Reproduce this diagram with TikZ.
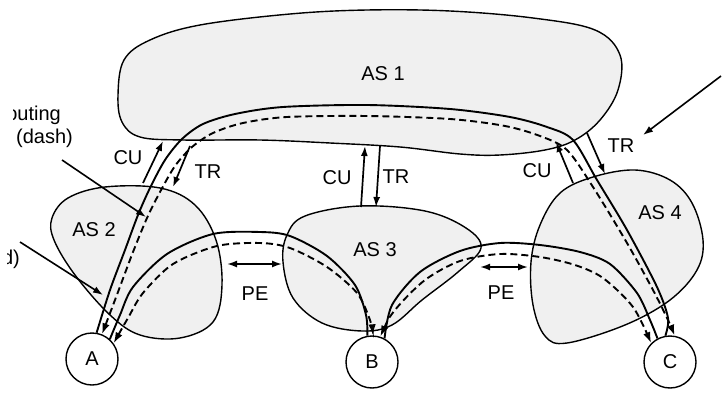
\documentclass[tikz,border=0pt]{standalone}
\usepackage{fontspec}
\setmainfont{Liberation Sans}
\usetikzlibrary{arrows.meta}
\tikzset{
  as/.style={draw, line width=1.4pt, fill=black!6},
  lbl/.style={font={\fontsize{20}{23}\selectfont}, inner sep=1pt},
  host/.style={circle, draw, line width=1.4pt, fill=white, minimum size=52pt, inner sep=0pt, font={\fontsize{20}{23}\selectfont}},
  fwd/.style={line width=1.9pt},
  rtg/.style={line width=1.9pt, dash pattern=on 7pt off 4pt, {Latex[length=11pt,width=7.5pt]}-{Latex[length=11pt,width=7.5pt]}},
  rel/.style={line width=1.7pt, -{Latex[length=10pt,width=7pt]}},
  peer/.style={line width=1.7pt, {Latex[length=10pt,width=7pt]}-{Latex[length=10pt,width=7pt]}},
  pointer/.style={line width=1.6pt, -{Latex[length=10pt,width=7pt]}},
}
\begin{document}
\begin{tikzpicture}[x=1pt, y=-1pt]
    \useasboundingbox (0,0) rectangle (722,393);
    % the ASes
    \draw[as] plot[smooth cycle, tension=0.6] coordinates {(118,95) (124,60) (150,40) (200,25) (290,14) (367,10) (450,11) (533,18) (595,30) (620,55) (618,90) (600,120) (575,140) (545,150) (500,155) (460,154) (400,147) (330,143) (260,140) (183,140) (140,137) (122,122)};
    \draw[as] plot[smooth cycle, tension=0.6] coordinates {(52,218) (68,198) (105,187) (160,188) (195,205) (216,240) (222,285) (213,322) (180,338) (140,335) (110,315) (75,275) (54,240)};
    \draw[as] plot[smooth cycle, tension=0.6] coordinates {(283,262) (287,235) (305,216) (360,206) (425,211) (466,228) (481,248) (458,272) (422,300) (392,325) (362,331) (322,323) (293,298)};
    \draw[as] plot[smooth cycle, tension=0.6] coordinates {(531,262) (540,225) (560,193) (593,177) (635,170) (670,180) (692,203) (703,240) (697,270) (670,300) (625,325) (567,343) (545,336) (533,305)};
    \node[lbl] (as1) at (383,74) {AS 1};
    \node[lbl] (as2) at (94,230) {AS 2};
    \node[lbl] (as3) at (375,250) {AS 3};
    \node[lbl] (as4) at (660,213) {AS 4};

    \node[host] (A) at (92,359) {A};
    \node[host] (B) at (372,362) {B};
    \node[host] (C) at (670,362) {C};

    % forwarding (solid) and routing (dash)
    \draw[fwd] plot[smooth] coordinates {(A.80) (110,290) (125,250) (138,215) (150,188) (165,160) (182,139) (203,124) (235,114) (283,107) (367,105) (450,109) (510,117) (547,127) (573,140) (597,180) (627,230) (657,287) (668,318) (C.100)};
    \draw[rtg] plot[smooth] coordinates {(A.68) (118,292) (133,252) (147,218) (160,192) (175,166) (192,147) (213,133) (243,123) (287,117) (367,116) (450,119) (505,126) (540,136) (567,150) (593,187) (627,243) (653,290) (668,320) (C.80)};
    \draw[fwd] plot[smooth] coordinates {(A.48) (120,315) (133,287) (167,254) (213,234) (260,232) (290,236) (327,256) (355,285) (366,315) (B.100)};
    \draw[rtg] plot[smooth] coordinates {(A.36) (128,318) (143,293) (173,264) (217,246) (260,243) (290,248) (327,267) (357,293) (370,320) (B.88)};
    \draw[fwd] plot[smooth] coordinates {(B.62) (392,305) (420,272) (460,251) (500,243) (540,245) (580,252) (610,264) (637,293) (650,320) (C.118)};
    \draw[rtg] plot[smooth] coordinates {(B.72) (395,310) (425,280) (460,261) (500,254) (540,257) (575,265) (603,278) (633,307) (C.135)};

    % customer / transit / peering relations
    \foreach \n/\x/\y in {cu2s/143/183, cu2e/163/141, tr2s/190/146, tr2e/173/187,
                          cu3s/361/207, cu3e/365/146, tr3s/380/146, tr3e/376/207,
                          cu4s/573/183, cu4e/556/142, tr4s/587/133, tr4e/605/174,
                          pe1s/227/264, pe1e/282/264, pe2s/480/267, pe2e/528/267,
                          p1s/62/160, p1e/146/217, p2s/20/242, p2e/103/295, p3s/721/76, p3e/643/135}
        \coordinate (\n) at (\x,\y);
    \draw[rel] (cu2s) -- (cu2e);
    \draw[rel] (tr2s) -- (tr2e);
    \draw[rel] (cu3s) -- (cu3e);
    \draw[rel] (tr3s) -- (tr3e);
    \draw[rel] (cu4s) -- (cu4e);
    \draw[rel] (tr4s) -- (tr4e);
    \draw[peer] (pe1s) -- (pe1e);
    \draw[peer] (pe2s) -- (pe2e);
    \node[lbl] (cu2) at (128,158) {CU};
    \node[lbl] (tr2) at (208,172) {TR};
    \node[lbl] (cu3) at (337,178) {CU};
    \node[lbl] (tr3) at (396,177) {TR};
    \node[lbl] (cu4) at (537,171) {CU};
    \node[lbl] (tr4) at (621,146) {TR};
    \node[lbl] (pe1) at (255,294) {PE};
    \node[lbl] (pe2) at (501,293) {PE};

    % pointers from the cut legend
    \begin{scope}
        \clip (13,90) rectangle (100,160);
        \node[lbl, anchor=base east] (routing) at (62,121) {outing};
        \node[lbl, anchor=base east] (dash) at (74,143) {(dash)};
    \end{scope}
    \begin{scope}
        \clip (7,240) rectangle (40,280);
        \node[lbl, anchor=base east] (solid) at (21,264) {d)};
    \end{scope}
    \draw[pointer] (p1s) -- (p1e);
    \draw[pointer] (p2s) -- (p2e);
    \draw[pointer] (p3s) -- (p3e);
\end{tikzpicture}
\end{document}
